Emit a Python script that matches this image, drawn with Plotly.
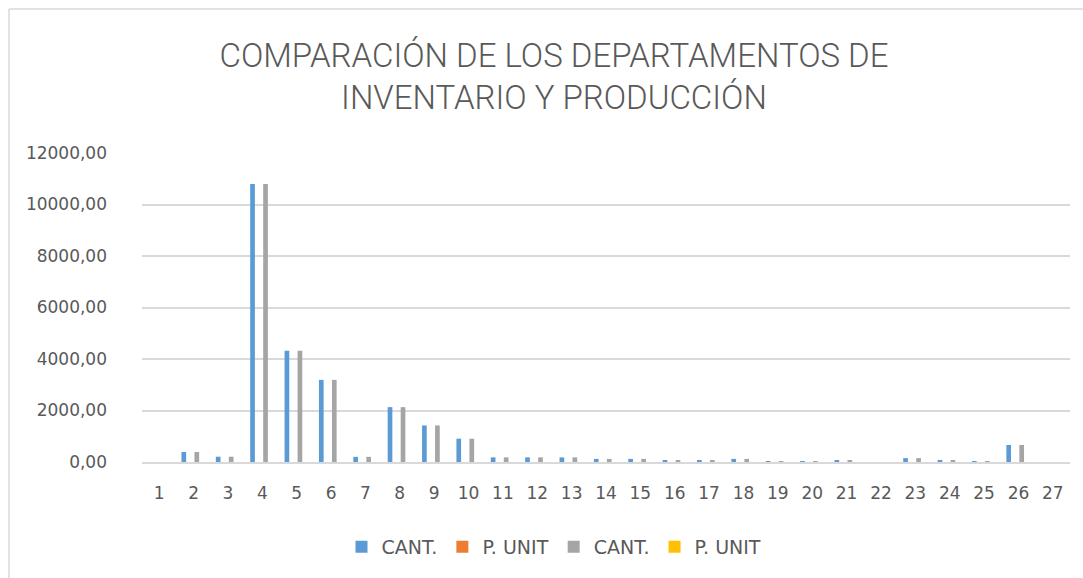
import plotly.graph_objects as go

categories = [str(i) for i in range(1, 28)]
cant_inv = [0, 390, 205, 10800, 4320, 3190, 200, 2130, 1420, 905, 180, 180, 180, 120, 120,
            50, 50, 120, 25, 10, 70, 0, 150, 80, 20, 660, 0]
punit_inv = [0] * 27  # P. UNIT bars are not visible at this scale
cant_prod = list(cant_inv)
punit_prod = list(punit_inv)

series = [
    ("CANT.", cant_inv, "#5B9BD5"),
    ("P. UNIT", punit_inv, "#ED7D31"),
    ("CANT.", cant_prod, "#A5A5A5"),
    ("P. UNIT", punit_prod, "#FFC000"),
]

fig = go.Figure()
for name, vals, col in series:
    fig.add_trace(go.Bar(x=categories, y=vals, name=name, marker=dict(color=col, line=dict(width=0))))

W, H = 1083, 578
# plot area in screen pixels
X0, X1, Y0, Y1 = 142, 1070, 153, 462
L, R, T, B = X0, W - X1, Y0, H - Y1
pw, ph = X1 - X0, Y1 - Y0

def px(x):
    return (x - X0) / pw

def py(y):
    return (Y1 - y) / ph

fig.update_layout(
    width=W, height=H,
    margin=dict(l=L, r=R, t=T, b=B),
    paper_bgcolor="white", plot_bgcolor="white",
    barmode="group", bargap=0.243, bargroupgap=0.28,
    separators=",.",
    font=dict(family="DejaVu Sans", size=17, color="#595959"),
    title=dict(
        text="COMPARACIÓN DE LOS DEPARTAMENTOS DE<br>INVENTARIO Y PRODUCCIÓN",
        x=px(554), xref="paper", xanchor="center",
        y=1 - 66.5 / H, yref="container", yanchor="middle",
        font=dict(family="Roboto", size=33, color="#595959", weight=300),
    ),
    showlegend=True,
    legend=dict(orientation="h", x=px(554), xanchor="center", y=py(547), yanchor="middle",
                font=dict(family="DejaVu Sans", size=19, color="#595959"),
                itemwidth=30, tracegroupgap=0, traceorder="normal"),
    xaxis=dict(type="category", showgrid=False, showline=True, linecolor="#D9D9D9", linewidth=1.5,
               ticks="", ticklabelstandoff=15, tickfont=dict(size=17, color="#595959")),
    yaxis=dict(range=[0, 12000], dtick=2000, tickformat=".2f", showgrid=True, gridcolor="#D9D9D9",
               gridwidth=1.5, zeroline=False, showline=False, ticks="", ticklabelstandoff=34,
               tickfont=dict(size=17, color="#595959")),
    shapes=[
        dict(type="line", xref="paper", yref="paper", x0=px(9), x1=px(W), y0=py(9), y1=py(9),
             line=dict(color="#D9D9D9", width=1.5)),
        dict(type="line", xref="paper", yref="paper", x0=px(9), x1=px(9), y0=py(9), y1=py(H),
             line=dict(color="#D9D9D9", width=1.5)),
    ],
)

fig.write_html(
    "out.html",
    config={"displayModeBar": False},
    post_script="document.body.style.margin='0';document.body.style.overflow='hidden';",
)
